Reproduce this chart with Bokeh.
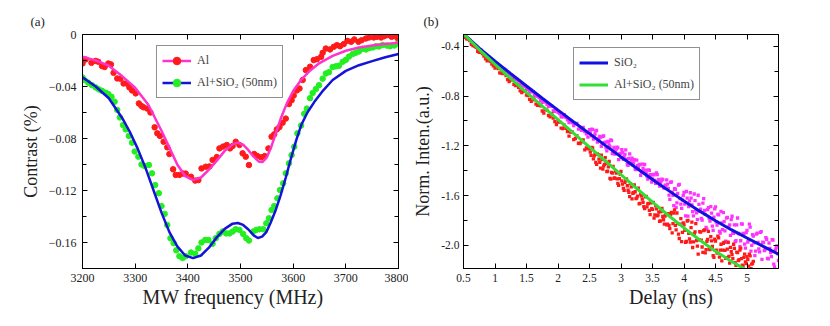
from bokeh.plotting import figure
from bokeh.layouts import row
from bokeh.models import (FixedTicker, LinearAxis, Legend, LegendItem, Range1d, Title,
                          PrintfTickFormatter)
from bokeh.embed import file_html
from bokeh.resources import INLINE

FONT = "'Liberation Serif', 'Times New Roman', serif"

# ---------------- panel (a): ODMR contrast ----------------
al_freq = [3200, 3206, 3217, 3225, 3230, 3237, 3242, 3249, 3254, 3259,
           3266, 3272, 3278, 3284, 3289, 3294, 3301, 3307, 3312, 3316,
           3323, 3329, 3337, 3342, 3347, 3354, 3361, 3365, 3372, 3377,
           3384, 3391, 3396, 3406, 3414, 3420, 3426, 3434, 3441, 3447,
           3455, 3460, 3467, 3474, 3480, 3485, 3491, 3498, 3504, 3510,
           3516, 3526, 3532, 3539, 3546, 3553, 3559, 3564, 3569, 3574,
           3580, 3586, 3592, 3597, 3601, 3607, 3612, 3618, 3624, 3632,
           3639, 3645, 3653, 3656, 3662, 3670, 3677, 3683, 3689, 3696,
           3703, 3710, 3716, 3724, 3730, 3738, 3744, 3753, 3759, 3767,
           3773, 3780, 3787, 3793, 3799]
al_contrast = [-0.0223, -0.0192, -0.0218, -0.0203, -0.0210, -0.0243, -0.0250, -0.0223, -0.0230, -0.0295,
               -0.0338, -0.0340, -0.0377, -0.0377, -0.0407, -0.0430, -0.0453, -0.0530, -0.0550, -0.0560,
               -0.0570, -0.0600, -0.0714, -0.0760, -0.0780, -0.0825, -0.0868, -0.0920, -0.1037, -0.1080,
               -0.1080, -0.1070, -0.1070, -0.1094, -0.1124, -0.1120, -0.1030, -0.1017, -0.1015, -0.0965,
               -0.0943, -0.0876, -0.0862, -0.0850, -0.0876, -0.0858, -0.0825, -0.0850, -0.0914, -0.0940,
               -0.1004, -0.0919, -0.0935, -0.0945, -0.0935, -0.0876, -0.0786, -0.0768, -0.0730, -0.0712,
               -0.0679, -0.0647, -0.0535, -0.0506, -0.0470, -0.0430, -0.0415, -0.0350, -0.0274, -0.0248,
               -0.0197, -0.0190, -0.0172, -0.0141, -0.0108, -0.0115, -0.0095, -0.0082, -0.0090, -0.0074,
               -0.0049, -0.0056, -0.0038, -0.0056, -0.0044, -0.0031, -0.0023, -0.0023, -0.0018, -0.0023,
               -0.0013, -0.0005, -0.0018, -0.0013, -0.0031]

sio2_freq = [3200, 3204, 3211, 3218, 3225, 3231, 3237, 3244, 3249, 3255,
             3261, 3266, 3271, 3277, 3282, 3288, 3294, 3299, 3306, 3312,
             3318, 3326, 3332, 3338, 3345, 3350, 3356, 3361, 3367, 3373,
             3378, 3384, 3390, 3396, 3406, 3414, 3420, 3426, 3433, 3439,
             3447, 3453, 3460, 3466, 3473, 3479, 3485, 3491, 3498, 3505,
             3511, 3516, 3524, 3530, 3536, 3543, 3549, 3554, 3559, 3564,
             3570, 3575, 3581, 3586, 3592, 3597, 3602, 3608, 3615, 3621,
             3626, 3632, 3637, 3643, 3649, 3656, 3662, 3668, 3675, 3681,
             3687, 3694, 3700, 3706, 3713, 3719, 3725, 3732, 3738, 3744,
             3751, 3757, 3763, 3770, 3778, 3784, 3792, 3798]
sio2_contrast = [-0.0330, -0.0351, -0.0371, -0.0390, -0.0407, -0.0422, -0.0433, -0.0448, -0.0458, -0.0479,
                 -0.0517, -0.0580, -0.0638, -0.0697, -0.0730, -0.0780, -0.0832, -0.0900, -0.0940, -0.1000,
                 -0.1012, -0.1004, -0.1068, -0.1158, -0.1221, -0.1320, -0.1380, -0.1465, -0.1567, -0.1605,
                 -0.1660, -0.1705, -0.1720, -0.1705, -0.1677, -0.1687, -0.1645, -0.1600, -0.1580, -0.1580,
                 -0.1610, -0.1567, -0.1534, -0.1516, -0.1530, -0.1530, -0.1516, -0.1498, -0.1503, -0.1534,
                 -0.1567, -0.1585, -0.1516, -0.1503, -0.1498, -0.1498, -0.1452, -0.1414, -0.1350, -0.1320,
                 -0.1260, -0.1196, -0.1145, -0.1068, -0.0991, -0.0927, -0.0863, -0.0760, -0.0700, -0.0610,
                 -0.0570, -0.0490, -0.0450, -0.0420, -0.0390, -0.0340, -0.0300, -0.0290, -0.0250, -0.0245,
                 -0.0240, -0.0210, -0.0195, -0.0170, -0.0150, -0.0140, -0.0130, -0.0110, -0.0115, -0.0105,
                 -0.0100, -0.0090, -0.0092, -0.0080, -0.0085, -0.0090, -0.0085, -0.0072]

al_fit_freq = [3200, 3225, 3250, 3275, 3300, 3325, 3350, 3365, 3380, 3395,
               3410, 3425, 3440, 3455, 3470, 3485, 3495, 3505, 3515, 3525,
               3535, 3542, 3550, 3558, 3567, 3577, 3588, 3600, 3615, 3630,
               3650, 3675, 3700, 3725, 3750, 3775, 3800]
al_fit = [-0.017, -0.020, -0.024, -0.032, -0.041, -0.054, -0.074, -0.087, -0.100, -0.109,
          -0.112, -0.110, -0.104, -0.097, -0.0895, -0.0845, -0.0832, -0.0848, -0.089, -0.094,
          -0.0978, -0.098, -0.0945, -0.087, -0.076, -0.064, -0.053, -0.0435, -0.035, -0.0285,
          -0.022, -0.0165, -0.0125, -0.010, -0.0085, -0.0073, -0.0064]

sio2_fit_freq = [3200, 3225, 3250, 3275, 3290, 3305, 3320, 3335, 3350, 3365,
                 3380, 3395, 3410, 3425, 3440, 3455, 3470, 3485, 3495, 3505,
                 3515, 3525, 3533, 3541, 3549, 3557, 3566, 3576, 3586, 3596,
                 3606, 3616, 3627, 3640, 3655, 3675, 3700, 3725, 3750, 3775, 3800]
sio2_fit = [-0.033, -0.040, -0.049, -0.064, -0.075, -0.088, -0.103, -0.120, -0.137, -0.152,
            -0.163, -0.170, -0.172, -0.170, -0.164, -0.156, -0.1495, -0.1455, -0.1450, -0.1465,
            -0.150, -0.1545, -0.1565, -0.1555, -0.152, -0.145, -0.136, -0.124, -0.110, -0.095,
            -0.081, -0.069, -0.060, -0.052, -0.044, -0.035, -0.028, -0.0236, -0.0205, -0.0175, -0.015]

a_xticks = [3200, 3300, 3400, 3500, 3600, 3700, 3800]
a_yticks = [0, -0.04, -0.08, -0.12, -0.16]
a_yminor = [-0.02, -0.06, -0.10, -0.14, -0.18]

# ---------------- panel (b): normalized decay ----------------
delay_early = [0.50, 0.55, 0.60, 0.65, 0.70, 0.75, 0.80, 0.85, 0.90, 0.95,
               1.00, 1.05, 1.10, 1.15, 1.20, 1.25, 1.30, 1.35, 1.40, 1.45,
               1.50, 1.55, 1.60, 1.65, 1.70, 1.75, 1.80, 1.85, 1.90, 1.95,
               2.00, 2.05, 2.10, 2.15, 2.20, 2.25, 2.30, 2.35, 2.40, 2.45]
delay_early_b = [0.525, 0.575, 0.625, 0.675, 0.725, 0.775, 0.825, 0.875, 0.925, 0.975,
                 1.025, 1.075, 1.125, 1.175, 1.225, 1.275, 1.325, 1.375, 1.425, 1.475,
                 1.525, 1.575, 1.625, 1.675, 1.725, 1.775, 1.825, 1.875, 1.925, 1.975,
                 2.025, 2.075, 2.125, 2.175, 2.225, 2.275, 2.325, 2.375, 2.425, 2.475]
delay_late = [2.500, 2.525, 2.550, 2.575, 2.600, 2.625, 2.650, 2.675, 2.700, 2.725,
              2.750, 2.775, 2.800, 2.825, 2.850, 2.875, 2.900, 2.925, 2.950, 2.975,
              3.000, 3.025, 3.050, 3.075, 3.100, 3.125, 3.150, 3.175, 3.200, 3.225,
              3.250, 3.275, 3.300, 3.325, 3.350, 3.375, 3.400, 3.425, 3.450, 3.475,
              3.500, 3.525, 3.550, 3.575, 3.600, 3.625, 3.650, 3.675, 3.700, 3.725,
              3.750, 3.775, 3.800, 3.825, 3.850, 3.875, 3.900, 3.925, 3.950, 3.975,
              4.000, 4.025, 4.050, 4.075, 4.100, 4.125, 4.150, 4.175, 4.200, 4.225,
              4.250, 4.275, 4.300, 4.325, 4.350, 4.375, 4.400, 4.425, 4.450, 4.475,
              4.500, 4.525, 4.550, 4.575, 4.600, 4.625, 4.650, 4.675, 4.700, 4.725,
              4.750, 4.775, 4.800, 4.825, 4.850, 4.875, 4.900, 4.925, 4.950, 4.975,
              5.000, 5.025, 5.050, 5.075, 5.100, 5.125, 5.150, 5.175, 5.200, 5.225,
              5.250, 5.275, 5.300, 5.325, 5.350, 5.375, 5.400, 5.425, 5.450, 5.475,
              5.500]
delay_late_b = [2.5125, 2.5375, 2.5625, 2.5875, 2.6125, 2.6375, 2.6625, 2.6875, 2.7125, 2.7375,
                2.7625, 2.7875, 2.8125, 2.8375, 2.8625, 2.8875, 2.9125, 2.9375, 2.9625, 2.9875,
                3.0125, 3.0375, 3.0625, 3.0875, 3.1125, 3.1375, 3.1625, 3.1875, 3.2125, 3.2375,
                3.2625, 3.2875, 3.3125, 3.3375, 3.3625, 3.3875, 3.4125, 3.4375, 3.4625, 3.4875,
                3.5125, 3.5375, 3.5625, 3.5875, 3.6125, 3.6375, 3.6625, 3.6875, 3.7125, 3.7375,
                3.7625, 3.7875, 3.8125, 3.8375, 3.8625, 3.8875, 3.9125, 3.9375, 3.9625, 3.9875,
                4.0125, 4.0375, 4.0625, 4.0875, 4.1125, 4.1375, 4.1625, 4.1875, 4.2125, 4.2375,
                4.2625, 4.2875, 4.3125, 4.3375, 4.3625, 4.3875, 4.4125, 4.4375, 4.4625, 4.4875,
                4.5125, 4.5375, 4.5625, 4.5875, 4.6125, 4.6375, 4.6625, 4.6875, 4.7125, 4.7375,
                4.7625, 4.7875, 4.8125, 4.8375, 4.8625, 4.8875, 4.9125, 4.9375, 4.9625, 4.9875,
                5.0125, 5.0375, 5.0625, 5.0875, 5.1125, 5.1375, 5.1625, 5.1875, 5.2125, 5.2375,
                5.2625, 5.2875, 5.3125, 5.3375, 5.3625, 5.3875, 5.4125, 5.4375, 5.4625, 5.4875]

sio2_decay = [-0.305, -0.333, -0.350, -0.381, -0.398, -0.430, -0.444, -0.475, -0.483, -0.513,
              -0.540, -0.548, -0.576, -0.583, -0.622, -0.632, -0.659, -0.666, -0.705, -0.710,
              -0.738, -0.768, -0.767, -0.801, -0.812, -0.850, -0.848, -0.882, -0.881, -0.923,
              -0.930, -0.966, -0.949, -0.992, -1.001, -1.038, -1.020, -1.061, -1.052, -1.104,
              -1.070, -1.120, -1.070, -1.120, -1.080, -1.170, -1.140, -1.130, -1.180, -1.120,
              -1.170, -1.240, -1.169, -1.209, -1.158, -1.238, -1.267, -1.227, -1.216, -1.266,
              -1.295, -1.254, -1.283, -1.232, -1.351, -1.300, -1.339, -1.298, -1.337, -1.386,
              -1.315, -1.374, -1.353, -1.412, -1.381, -1.350, -1.419, -1.468, -1.397, -1.436,
              -1.465, -1.434, -1.502, -1.431, -1.470, -1.498, -1.467, -1.536, -1.515, -1.473,
              -1.542, -1.630, -1.489, -1.597, -1.545, -1.694, -1.582, -1.510, -1.668, -1.637,
              -1.575, -1.763, -1.621, -1.689, -1.577, -1.675, -1.763, -1.641, -1.739, -1.597,
              -1.725, -1.783, -1.660, -1.718, -1.855, -1.713, -1.780, -1.688, -1.845, -1.773,
              -1.690, -1.837, -1.755, -1.902, -1.819, -1.737, -1.884, -1.781, -1.978, -1.836,
              -1.793, -1.900, -1.836, -1.963, -1.780, -1.907, -1.963, -1.830, -1.907, -2.023,
              -1.880, -1.957, -1.853, -2.000, -1.926, -2.083, -1.909, -1.976, -2.052, -1.889,
              -1.975, -2.042, -1.938, -2.105, -1.981, -2.058, -1.954, -2.151, -2.037, -2.004,
              -2.120]
sio2_decay_b = [-0.324, -0.338, -0.376, -0.389, -0.418, -0.428, -0.467, -0.478, -0.505, -0.516,
                -0.552, -0.559, -0.585, -0.594, -0.635, -0.641, -0.669, -0.676, -0.717, -0.722,
                -0.746, -0.754, -0.792, -0.800, -0.837, -0.835, -0.866, -0.879, -0.917, -0.909,
                -0.940, -0.967, -0.970, -1.014, -1.013, -1.021, -1.066, -1.075, -1.086, -1.130,
                -1.095, -1.065, -1.145, -1.105, -1.075, -1.155, -1.125, -1.205, -1.125, -1.175,
                -1.215, -1.164, -1.194, -1.153, -1.263, -1.212, -1.252, -1.211, -1.311, -1.260,
                -1.230, -1.309, -1.268, -1.307, -1.356, -1.265, -1.314, -1.353, -1.312, -1.391,
                -1.360, -1.349, -1.438, -1.347, -1.406, -1.395, -1.444, -1.393, -1.432, -1.491,
                -1.430, -1.478, -1.417, -1.486, -1.524, -1.483, -1.472, -1.540, -1.519, -1.508,
                -1.596, -1.494, -1.573, -1.681, -1.549, -1.658, -1.516, -1.624, -1.702, -1.601,
                -1.669, -1.567, -1.765, -1.643, -1.621, -1.729, -1.587, -1.715, -1.793, -1.671,
                -1.709, -1.796, -1.624, -1.751, -1.869, -1.696, -1.804, -1.741, -1.879, -1.706,
                -1.814, -1.751, -1.888, -1.726, -1.873, -1.810, -1.967, -1.775, -1.852, -1.919,
                -1.766, -1.903, -1.970, -1.836, -1.903, -2.010, -1.827, -1.903, -1.990, -1.897,
                -1.973, -1.830, -2.046, -1.913, -1.979, -2.046, -1.902, -2.029, -1.895, -2.112,
                -1.978, -2.035, -1.951, -2.108, -2.024, -2.091, -1.957, -2.174, -2.020, -2.067]

alsio2_decay = [-0.306, -0.340, -0.354, -0.395, -0.409, -0.449, -0.459, -0.501, -0.503, -0.543,
                -0.576, -0.579, -0.615, -0.615, -0.668, -0.670, -0.706, -0.705, -0.758, -0.757,
                -0.793, -0.827, -0.816, -0.864, -0.868, -0.920, -0.907, -0.956, -0.941, -1.006,
                -1.008, -1.057, -1.034, -1.086, -1.090, -1.150, -1.121, -1.181, -1.153, -1.217,
                -1.225, -1.277, -1.219, -1.281, -1.333, -1.265, -1.307, -1.379, -1.311, -1.363,
                -1.295, -1.407, -1.369, -1.461, -1.413, -1.365, -1.457, -1.419, -1.501, -1.463,
                -1.405, -1.507, -1.558, -1.480, -1.521, -1.573, -1.504, -1.626, -1.577, -1.569,
                -1.620, -1.541, -1.662, -1.603, -1.654, -1.705, -1.606, -1.667, -1.718, -1.659,
                -1.710, -1.781, -1.681, -1.762, -1.732, -1.803, -1.703, -1.794, -1.764, -1.835,
                -1.745, -1.865, -1.735, -1.825, -1.715, -1.875, -1.825, -1.945, -1.785, -1.895,
                -1.835, -1.975, -1.804, -1.904, -1.973, -1.813, -1.972, -1.892, -1.961, -2.071,
                -1.890, -1.959, -2.057, -1.876, -2.034, -1.953, -2.031, -1.930, -2.008, -2.097,
                -1.965, -2.063, -1.940, -2.038, -2.125, -1.983, -2.040, -2.098, -1.975, -2.143,
                -2.050, -2.107, -2.024, -2.161, -2.058, -2.115, -2.022, -2.159, -2.096, -2.133,
                -2.090, -2.167, -2.084, -2.151, -2.128]
alsio2_decay_b = [-0.328, -0.342, -0.385, -0.398, -0.441, -0.443, -0.479, -0.517, -0.521, -0.558,
                  -0.564, -0.613, -0.620, -0.636, -0.684, -0.670, -0.716, -0.729, -0.773, -0.761,
                  -0.797, -0.843, -0.830, -0.875, -0.879, -0.936, -0.913, -0.967, -0.977, -1.029,
                  -1.009, -1.061, -1.060, -1.122, -1.087, -1.141, -1.179, -1.167, -1.232, -1.223,
                  -1.251, -1.213, -1.305, -1.267, -1.349, -1.271, -1.333, -1.275, -1.387, -1.349,
                  -1.341, -1.403, -1.325, -1.467, -1.419, -1.461, -1.403, -1.465, -1.517, -1.429,
                  -1.481, -1.542, -1.494, -1.465, -1.557, -1.608, -1.530, -1.581, -1.513, -1.624,
                  -1.605, -1.666, -1.587, -1.628, -1.689, -1.610, -1.691, -1.662, -1.753, -1.704,
                  -1.655, -1.756, -1.706, -1.757, -1.807, -1.728, -1.768, -1.829, -1.749, -1.830,
                  -1.840, -1.750, -1.900, -1.740, -1.840, -1.740, -1.910, -1.830, -1.970, -1.820,
                  -1.880, -1.969, -1.799, -1.948, -1.858, -2.017, -1.907, -1.826, -2.006, -1.955,
                  -1.894, -2.013, -1.881, -2.060, -1.968, -1.887, -2.035, -1.964, -2.082, -1.951,
                  -2.039, -1.926, -2.094, -1.991, -2.039, -1.976, -2.104, -2.031, -2.089, -2.016,
                  -2.074, -1.991, -2.138, -2.055, -2.122, -2.039, -2.106, -2.163, -2.070, -2.147,
                  -2.114, -2.071, -2.188, -2.145]

fit_delay = [0.50, 0.75, 1.00, 1.25, 1.50, 1.75, 2.00, 2.25, 2.50, 2.75, 3.00,
             3.25, 3.50, 3.75, 4.00, 4.25, 4.50, 4.75, 5.00, 5.25, 5.50]
sio2_decay_fit = [-0.300, -0.415, -0.520, -0.620, -0.719, -0.817, -0.913, -1.008, -1.102, -1.196, -1.289,
                  -1.380, -1.470, -1.558, -1.643, -1.725, -1.802, -1.874, -1.941, -2.006, -2.070]
alsio2_decay_fit = [-0.300, -0.426, -0.545, -0.659, -0.770, -0.880, -0.990, -1.100, -1.210, -1.320,
                    -1.432, -1.543, -1.652, -1.758, -1.860, -1.957, -2.047, -2.128, -2.200]

b_xticks = [0.5, 1, 1.5, 2, 2.5, 3, 3.5, 4, 4.5, 5]
b_yticks = [-0.4, -0.8, -1.2, -1.6, -2.0]
b_yminor = [-0.6, -1.0, -1.4, -1.8]

sio2_t = delay_early + delay_early_b + delay_late + delay_late_b
sio2_y = sio2_decay[:40] + sio2_decay_b[:40] + sio2_decay[40:] + sio2_decay_b[40:]
alsio2_t = delay_early + delay_early_b + delay_late[:105] + delay_late_b[:104]
alsio2_y = alsio2_decay[:40] + alsio2_decay_b[:40] + alsio2_decay[40:] + alsio2_decay_b[40:]

NBSP = "\u00a0"
ENSP = "\u2002"


def style_axis(ax, ticks, minor, size, overrides=None, labels=True, standoff=5):
    ax.ticker = FixedTicker(ticks=ticks, minor_ticks=minor)
    ax.major_tick_in = 5
    ax.major_tick_out = 0
    ax.minor_tick_in = 4
    ax.minor_tick_out = 0
    ax.axis_line_color = "black"
    ax.major_tick_line_color = "black"
    ax.minor_tick_line_color = "black"
    ax.major_label_text_font = FONT
    if labels:
        ax.major_label_text_color = "#222222"
        ax.major_label_text_font_size = size
        ax.major_label_standoff = standoff
    else:
        ax.major_label_text_color = None
        ax.major_label_text_font_size = "1px"
        ax.major_label_standoff = 0
    if overrides:
        ax.major_label_overrides = overrides
    ax.axis_label_text_font = FONT
    ax.axis_label_text_font_style = "normal"
    ax.axis_label_text_color = "#222222"


def make_fig(width, xr, yr, left, right):
    p = figure(width=width, height=318, x_range=xr, y_range=yr,
               output_backend="svg", toolbar_location=None, title=None,
               min_border_left=left, min_border_right=right,
               min_border_top=34, min_border_bottom=50)
    p.grid.visible = False
    p.outline_line_color = "black"
    p.outline_line_width = 1
    return p


def mirror_axes(p, xt, xm, yt, ym):
    top = LinearAxis()
    style_axis(top, xt, xm, "1px", labels=False)
    p.add_layout(top, "above")
    rgt = LinearAxis()
    style_axis(rgt, yt, ym, "1px", labels=False)
    p.add_layout(rgt, "right")


def make_legend(items, loc):
    return Legend(items=items, location=loc, margin=0, padding=5, spacing=3,
                  glyph_width=29, glyph_height=19, label_height=19, label_standoff=6,
                  label_text_font=FONT, label_text_font_size="12px",
                  border_line_color="#222222", border_line_width=1.3,
                  background_fill_color="white", background_fill_alpha=1)


def panel_title(p, text, offset):
    t = Title(text=text, align="left", offset=offset, standoff=11,
              text_font=FONT, text_font_size="13px", text_font_style="normal",
              text_color="#222222")
    p.add_layout(t, "above")


# ---------- figure a ----------
pa = make_fig(408, Range1d(3200, 3800), Range1d(-0.18, 0), 82, 10)
RED = "#ff1a1a"
GREEN = "#22ee22"
MAG = "#ff33cc"
BLUE = "#1414d8"

ra = pa.scatter(al_freq, al_contrast, size=5.5, color=RED)
rg = pa.scatter(sio2_freq, sio2_contrast, size=5.5, color=GREEN)
la = pa.line(al_fit_freq, al_fit, line_width=2.5, color=MAG)
lb = pa.line(sio2_fit_freq, sio2_fit, line_width=2.5, color=BLUE)

style_axis(pa.xaxis[0], a_xticks, [], "12px", standoff=5)
style_axis(pa.yaxis[0], a_yticks, a_yminor, "12px", overrides={0: "0"}, standoff=6)
pa.xaxis[0].axis_label = "MW frequency (MHz)" + NBSP * 3
pa.xaxis[0].axis_label_text_font_size = "20px"
pa.xaxis[0].axis_label_standoff = 1
pa.yaxis[0].axis_label = "Contrast (%)"
pa.yaxis[0].axis_label_text_font_size = "18px"
pa.yaxis[0].axis_label_standoff = 5
mirror_axes(pa, a_xticks, [], a_yticks, a_yminor)

pa.add_layout(make_legend([LegendItem(label="Al", renderers=[la, ra]),
                           LegendItem(label="Al+SiO\u2082 (50nm)", renderers=[lb, rg])],
                          (74, 170)))
panel_title(pa, "(a)", -52)

# ---------- figure b ----------
pb = make_fig(414, Range1d(0.5, 5.5), Range1d(-2.186, -0.305), 55, 44)
MAG_B = "#ff33ff"
BLUE_B = "#1010e0"
GREEN_B = "#33dd33"

pb.scatter(sio2_t, sio2_y, marker="square", size=3.3, fill_color=MAG_B, line_color=None)
pb.scatter(alsio2_t, alsio2_y, marker="square", size=3.3, fill_color=RED, line_color=None)
lbb = pb.line(fit_delay, sio2_decay_fit, line_width=3, color=BLUE_B)
lgb = pb.line(fit_delay[:19], alsio2_decay_fit, line_width=3, color=GREEN_B)
# legend-only markers (no data)
mk1 = pb.scatter([], [], size=6, color=MAG_B)
mk2 = pb.scatter([], [], size=6, color=RED)

style_axis(pb.xaxis[0], b_xticks, [], "11.5px",
           overrides={1: "1", 2: "2", 3: "3", 4: "4", 5: "5"}, standoff=5)
style_axis(pb.yaxis[0], b_yticks, b_yminor, "11.5px", standoff=4)
pb.yaxis[0].formatter = PrintfTickFormatter(format="%.1f")
pb.xaxis[0].axis_label = ENSP * 10 + "Delay (ns)"
pb.xaxis[0].axis_label_text_font_size = "20px"
pb.xaxis[0].axis_label_standoff = 1
pb.yaxis[0].axis_label = "Norm. Inten.(a.u.)"
pb.yaxis[0].axis_label_text_font_size = "18px"
pb.yaxis[0].axis_label_standoff = 5
mirror_axes(pb, b_xticks, [], b_yticks, b_yminor)

pb.add_layout(make_legend([LegendItem(label="SiO\u2082", renderers=[lbb, mk1]),
                           LegendItem(label="Al+SiO\u2082 (50nm)", renderers=[lgb, mk2])],
                          (110, 168)))
panel_title(pb, "(b)", -40)

p = row(pa, pb)
open("out.html", "w").write(file_html(p, INLINE))
